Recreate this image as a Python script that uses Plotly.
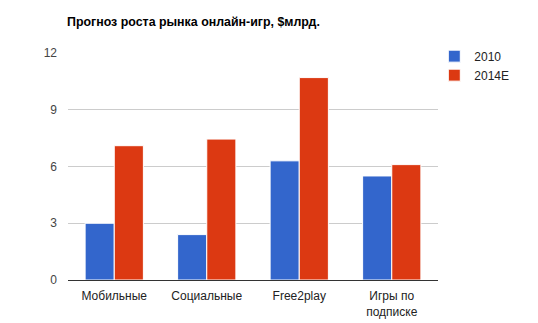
import plotly.graph_objects as go

categories = ["Мобильные", "Социальные", "Free2play", "Игры по<br>подписке"]
series_names = ["2010", "2014E"]
values_2010 = [3.0, 2.4, 6.3, 5.5]
values_2014 = [7.1, 7.45, 10.7, 6.1]
y_ticks = [0, 3, 6, 9, 12]

colors = ["#3366cc", "#dc3912"]
font_family = "Liberation Sans, Arial, sans-serif"

fig = go.Figure()
for name, vals, col in zip(series_names, [values_2010, values_2014], colors):
    fig.add_trace(go.Bar(
        x=categories, y=vals, name=name,
        marker=dict(color=col, line=dict(color="white", width=1)),
    ))

fig.update_layout(
    width=538, height=323,
    margin=dict(l=68, r=100, t=53, b=43),
    paper_bgcolor="white", plot_bgcolor="white",
    barmode="group", bargap=0.37, bargroupgap=0.0,
    font=dict(family=font_family, size=12, color="#222222"),
    title=dict(text="<b>Прогноз роста рынка онлайн-игр, $млрд.</b>",
               x=67 / 538, xanchor="left", y=1 - 22 / 323, yanchor="middle",
               font=dict(size=12.4, color="#000000")),
    legend=dict(x=0.99, xanchor="left", y=1.05, yanchor="top",
                font=dict(size=12, color="#222222"),
                itemwidth=30, tracegroupgap=0),
    showlegend=True,
)
fig.update_xaxes(showgrid=False, showline=True, linecolor="#333333", linewidth=1,
                 ticks="", tickfont=dict(size=12, color="#222222"),
                 ticklabelstandoff=5, automargin=False)
fig.update_yaxes(range=[0, 12], tickvals=y_ticks, showgrid=True, gridcolor="#cccccc",
                 gridwidth=1, zeroline=False, showline=False, ticks="",
                 tickfont=dict(size=12, color="#444444"), ticklabelstandoff=10,
                 automargin=False)

fig.write_html("out.html")
